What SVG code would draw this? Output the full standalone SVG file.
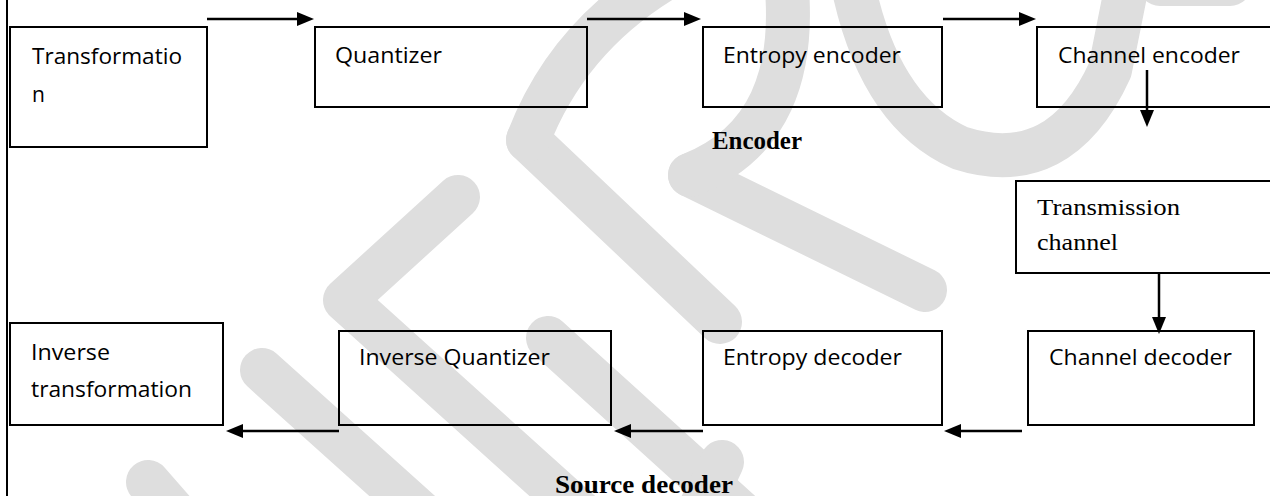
<svg xmlns="http://www.w3.org/2000/svg" width="1270" height="496" viewBox="0 0 1270 496">
  <style>
    .wm { fill: none; stroke: #dedede; stroke-width: 44; stroke-linecap: round; stroke-linejoin: round; }
    .box { fill: none; stroke: #000; stroke-width: 2; }
    .lbl { font-family: "Open Sans", "Liberation Sans", sans-serif; font-size: 21px; fill: #000; }
    .ser { font-family: "Liberation Serif", "Times New Roman", serif; font-size: 24px; fill: #000; }
    .ttl { font-family: "Liberation Serif", "Times New Roman", serif; font-size: 25px; font-weight: bold; fill: #000; }
    .conn { fill: none; stroke: #000; stroke-width: 2.5; }
  </style>
  <defs>
    <marker id="ah" markerUnits="userSpaceOnUse" markerWidth="17" markerHeight="14" refX="2" refY="7" orient="auto">
      <path d="M0,0 L17,7 L0,14 z" fill="#000"/>
    </marker>
  </defs>
  <rect width="1270" height="496" fill="#fff"/>
  <g id="watermark">
    <path class="wm" d="M458,197 L345,300 L600,530"/>
    <path class="wm" d="M262,370 L440,530"/>
    <path class="wm" d="M148,482 L190,530"/>
    <path class="wm" d="M548,338 L760,530"/>
    <path class="wm" d="M722,462 L690,530"/>
    <path class="wm" d="M528,140 L720,322"/>
    <path class="wm" d="M690,175 L925,290"/>
    <path class="wm" d="M528,140 Q570,30 680,-30"/>
    <path class="wm" d="M785,-30 Q805,130 690,175"/>
    <path class="wm" d="M850,-30 Q875,110 960,148 Q1060,180 1110,70 L1130,-30"/>
    <path class="wm" d="M1160,-16 L1230,-16"/>
  </g>
  <line x1="7" y1="0" x2="7" y2="496" stroke="#000" stroke-width="2"/>
  <g id="connectors">
    <path class="conn" d="M207,19 L299,19" marker-end="url(#ah)"/>
    <path class="conn" d="M587,19 L686,19" marker-end="url(#ah)"/>
    <path class="conn" d="M943,19 L1021,19" marker-end="url(#ah)"/>
    <path class="conn" d="M1147,70 L1147,112" marker-end="url(#ah)"/>
    <path class="conn" d="M1159,273 L1159,319" marker-end="url(#ah)"/>
    <path class="conn" d="M1022,431 L959,431" marker-end="url(#ah)"/>
    <path class="conn" d="M703,431 L629,431" marker-end="url(#ah)"/>
    <path class="conn" d="M339,431 L241,431" marker-end="url(#ah)"/>
  </g>
  <g id="transformation">
    <rect class="box" x="10" y="27" width="197" height="120"/>
    <text class="lbl" x="32" y="64" textLength="150" lengthAdjust="spacingAndGlyphs">Transformatio</text>
    <text class="lbl" x="32" y="102">n</text>
  </g>
  <g id="quantizer">
    <rect class="box" x="315" y="27" width="272" height="80"/>
    <text class="lbl" x="335" y="63" textLength="107" lengthAdjust="spacingAndGlyphs">Quantizer</text>
  </g>
  <g id="entropy-encoder">
    <rect class="box" x="703" y="27" width="239" height="80"/>
    <text class="lbl" x="723" y="63" textLength="178" lengthAdjust="spacingAndGlyphs">Entropy encoder</text>
  </g>
  <g id="channel-encoder">
    <rect class="box" x="1037" y="27" width="260" height="80"/>
    <text class="lbl" x="1058" y="63" textLength="182" lengthAdjust="spacingAndGlyphs">Channel encoder</text>
  </g>
  <g id="encoder-label">
    <text class="ttl" x="712" y="149" textLength="90" lengthAdjust="spacingAndGlyphs">Encoder</text>
  </g>
  <g id="transmission-channel">
    <rect class="box" x="1016" y="181" width="280" height="92"/>
    <text class="ser" x="1037" y="215" textLength="143" lengthAdjust="spacingAndGlyphs">Transmission</text>
    <text class="ser" x="1037" y="250" textLength="81" lengthAdjust="spacingAndGlyphs">channel</text>
  </g>
  <g id="channel-decoder">
    <rect class="box" x="1028" y="331" width="226" height="94"/>
    <text class="lbl" x="1049" y="365" textLength="183" lengthAdjust="spacingAndGlyphs">Channel decoder</text>
  </g>
  <g id="entropy-decoder">
    <rect class="box" x="703" y="331" width="239" height="94"/>
    <text class="lbl" x="723" y="365" textLength="179" lengthAdjust="spacingAndGlyphs">Entropy decoder</text>
  </g>
  <g id="inverse-quantizer">
    <rect class="box" x="339" y="331" width="272" height="94"/>
    <text class="lbl" x="359" y="365" textLength="191" lengthAdjust="spacingAndGlyphs">Inverse Quantizer</text>
  </g>
  <g id="inverse-transformation">
    <rect class="box" x="10" y="323" width="213" height="102"/>
    <text class="lbl" x="31" y="360" textLength="79" lengthAdjust="spacingAndGlyphs">Inverse</text>
    <text class="lbl" x="31" y="397" textLength="161" lengthAdjust="spacingAndGlyphs">transformation</text>
  </g>
  <g id="source-decoder-label">
    <text class="ttl" x="555" y="493" textLength="178" lengthAdjust="spacingAndGlyphs">Source decoder</text>
  </g>
</svg>
